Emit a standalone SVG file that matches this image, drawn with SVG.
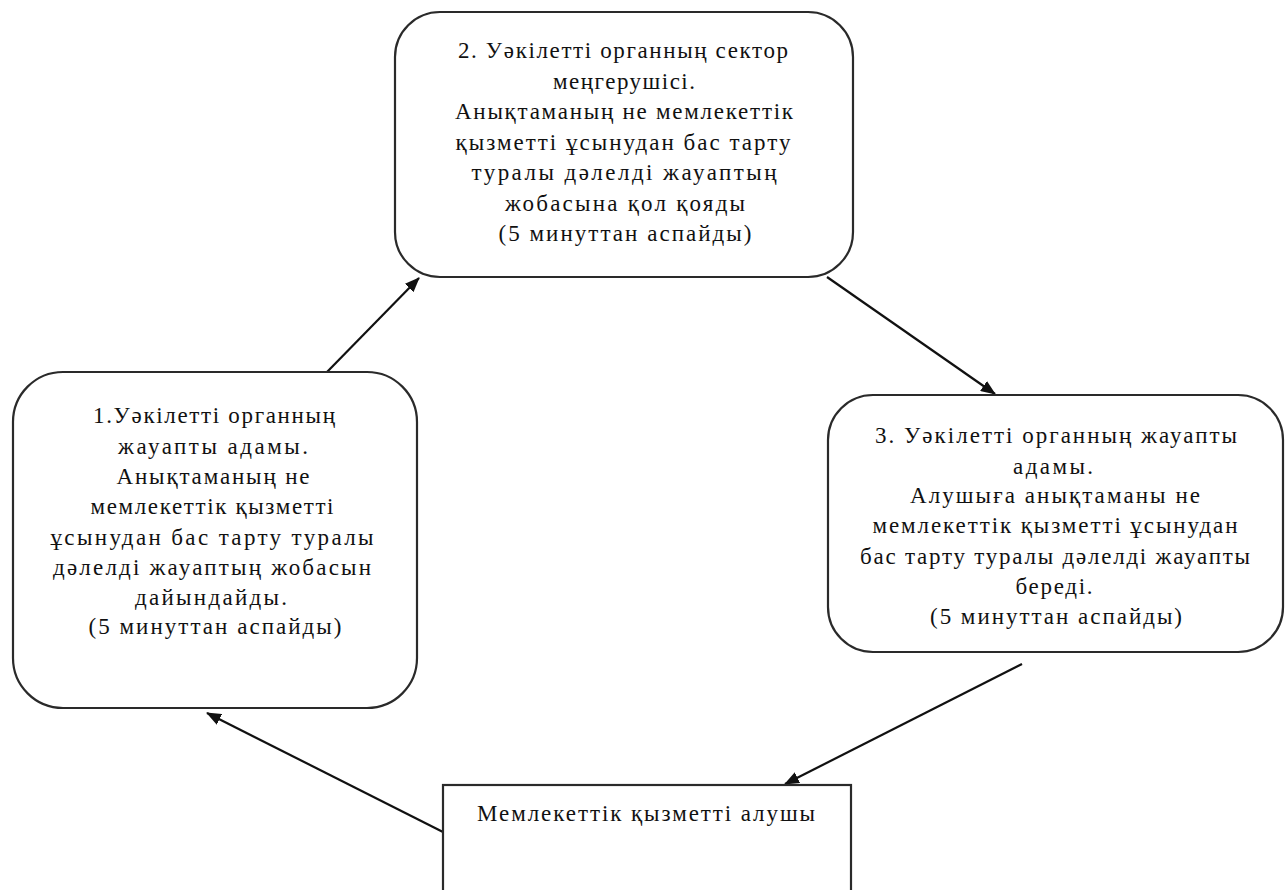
<svg xmlns="http://www.w3.org/2000/svg" width="1285" height="890" viewBox="0 0 1285 890">
<style>
.box{fill:#fff;stroke:#2a2a2a;stroke-width:2.2}
.t{font-family:'Liberation Serif','Times New Roman',serif;font-size:23px;fill:#111;text-anchor:middle}
.c{stroke:#111;stroke-width:2.2;fill:none;marker-end:url(#ah)}
</style>
<defs>
<marker id="ah" markerWidth="15" markerHeight="12" refX="14" refY="6" orient="auto" markerUnits="userSpaceOnUse">
<path d="M0,0 L15,6 L0,12 Z" fill="#111"/>
</marker>
</defs>
<rect width="1285" height="890" fill="#fff"/>
<g id="connectors">
<line class="c" x1="327" y1="372" x2="419" y2="278"/>
<line class="c" x1="827" y1="277" x2="995" y2="394"/>
<line class="c" x1="1022" y1="664" x2="785" y2="784"/>
<line class="c" x1="443" y1="832" x2="207" y2="713"/>
</g>
<g id="node2">
<rect class="box" x="395" y="12" width="458" height="265" rx="45"/>
<text class="t" x="623" y="58" textLength="330" lengthAdjust="spacing">2. Уәкілетті органның сектор</text>
<text class="t" x="624" y="89" textLength="142" lengthAdjust="spacing">меңгерушісі.</text>
<text class="t" x="624" y="119" textLength="338" lengthAdjust="spacing">Анықтаманың не мемлекеттік</text>
<text class="t" x="623" y="150" textLength="335" lengthAdjust="spacing">қызметті ұсынудан бас тарту</text>
<text class="t" x="624" y="180" textLength="305" lengthAdjust="spacing">туралы дәлелді жауаптың</text>
<text class="t" x="625" y="211" textLength="240" lengthAdjust="spacing">жобасына қол қояды</text>
<text class="t" x="625" y="241" textLength="253" lengthAdjust="spacing">(5 минуттан аспайды)</text>
</g>
<g id="node1">
<rect class="box" x="13" y="372" width="404" height="336" rx="50"/>
<text class="t" x="214" y="423" textLength="242" lengthAdjust="spacing">1.Уәкілетті органның</text>
<text class="t" x="213" y="454" textLength="190" lengthAdjust="spacing">жауапты адамы.</text>
<text class="t" x="213" y="484" textLength="193" lengthAdjust="spacing">Анықтаманың не</text>
<text class="t" x="212" y="514" textLength="243" lengthAdjust="spacing">мемлекеттік қызметті</text>
<text class="t" x="212" y="545" textLength="323" lengthAdjust="spacing">ұсынудан бас тарту туралы</text>
<text class="t" x="212" y="575" textLength="318" lengthAdjust="spacing">дәлелді жауаптың жобасын</text>
<text class="t" x="211" y="605" textLength="152" lengthAdjust="spacing">дайындайды.</text>
<text class="t" x="215" y="634" textLength="253" lengthAdjust="spacing">(5 минуттан аспайды)</text>
</g>
<g id="node3">
<rect class="box" x="828" y="395" width="455" height="257" rx="45"/>
<text class="t" x="1056" y="443" textLength="362" lengthAdjust="spacing">3. Уәкілетті органның жауапты</text>
<text class="t" x="1053" y="474" textLength="80" lengthAdjust="spacing">адамы.</text>
<text class="t" x="1055" y="503" textLength="290" lengthAdjust="spacing">Алушыға анықтаманы не</text>
<text class="t" x="1055" y="533" textLength="365" lengthAdjust="spacing">мемлекеттік қызметті ұсынудан</text>
<text class="t" x="1055" y="564" textLength="390" lengthAdjust="spacing">бас тарту туралы дәлелді жауапты</text>
<text class="t" x="1054" y="594" textLength="77" lengthAdjust="spacing">береді.</text>
<text class="t" x="1056" y="624" textLength="252" lengthAdjust="spacing">(5 минуттан аспайды)</text>
</g>
<g id="node4">
<rect class="box" x="443" y="785" width="408" height="120"/>
<text class="t" x="646" y="821" textLength="338" lengthAdjust="spacing">Мемлекеттік қызметті алушы</text>
</g>
</svg>
